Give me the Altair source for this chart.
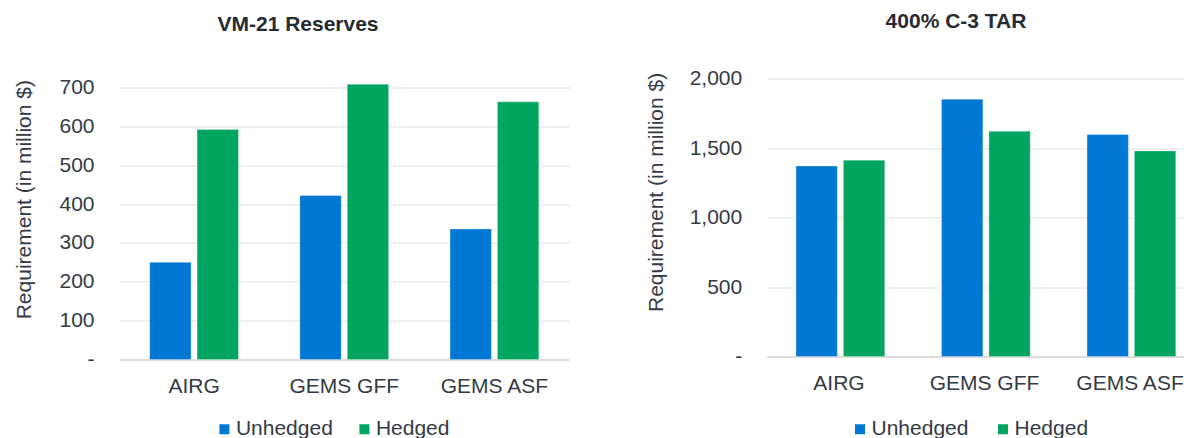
import altair as alt
import pandas as pd

categories = ["AIRG", "GEMS GFF", "GEMS ASF"]
series = ["Unhedged", "Hedged"]
vm21_unhedged = [250, 422, 336]
vm21_hedged = [592, 708, 663]
tar_unhedged = [1371, 1851, 1597]
tar_hedged = [1412, 1621, 1479]
colors = ["#0078D4", "#00A55F"]
vm21_ticks = [0, 100, 200, 300, 400, 500, 600, 700]
tar_ticks = [0, 500, 1000, 1500, 2000]

FONT = "Liberation Sans"
TXT = "#333a44"
TITLE_C = "#262b31"


def long(unh, hed):
    rows = []
    for c, u, h in zip(categories, unh, hed):
        rows.append({"cat": c, "series": "Unhedged", "value": u})
        rows.append({"cat": c, "series": "Hedged", "value": h})
    return pd.DataFrame(rows)


LABEL_EXPR = "datum.value == 0 ? '-\u00a0\u00a0' : format(datum.value, ',')"


def panel(df, title, title_dx, title_offset, width, height, ydomain, yvalues,
          xscale, ytitle_x, ytitle_y, legend_x, col_pad):
    return alt.Chart(df).mark_bar(stroke="#ffffff", strokeWidth=0.6, strokeOpacity=0.5).encode(
        x=alt.X("cat:N", sort=categories, scale=xscale,
                axis=alt.Axis(title=None, labelFontSize=21, labelFont=FONT, labelColor=TXT,
                              labelPadding=16, ticks=False, tickSize=0, domainColor="#d6d6d6",
                              domainWidth=1.5, labelAngle=0, grid=False)),
        xOffset=alt.XOffset("series:N", sort=series,
                            scale=alt.Scale(paddingInner=0.127, paddingOuter=0)),
        y=alt.Y("value:Q", scale=alt.Scale(domain=ydomain, nice=False, zero=True),
                axis=alt.Axis(values=yvalues, labelExpr=LABEL_EXPR,
                              title="Requirement (in million $)", titleFontSize=21,
                              titleFont=FONT, titleFontWeight="normal", titleColor=TXT,
                              titleX=ytitle_x, titleY=ytitle_y, titleBaseline="middle",
                              titleAlign="center", labelPadding=25, ticks=False, tickSize=0,
                              domain=False, gridColor="#dedede", gridWidth=1,
                              labelFontSize=21, labelFont=FONT, labelColor=TXT)),
        color=alt.Color("series:N", sort=series,
                        scale=alt.Scale(domain=series, range=colors),
                        legend=alt.Legend(title=None, orient="none", legendX=legend_x,
                                          legendY=340, direction="horizontal",
                                          symbolType="square", symbolSize=100,
                                          symbolStrokeWidth=0, labelFontSize=21,
                                          labelFont=FONT, labelColor=TXT,
                                          columnPadding=col_pad, labelOffset=1, padding=0)),
    ).properties(
        width=width, height=height,
        title=alt.TitleParams(title, fontSize=21, font=FONT, fontWeight="bold", color=TITLE_C,
                              anchor="middle", frame="group", dx=title_dx, offset=title_offset,
                              baseline="alphabetic"),
    )


left = panel(long(vm21_unhedged, vm21_hedged), "VM-21 Reserves", -46.25, 24.9,
             450.5, 281, [0, 723.1], vm21_ticks,
             alt.Scale(paddingInner=0.409, paddingOuter=0.2045),
             -94.5, 120.7, 94.9, 21)

right = panel(long(tar_unhedged, tar_hedged), "400% C-3 TAR", -18.85, 18.6,
              416.3, 278, [0, 2000], tar_ticks,
              alt.Scale(paddingInner=0.409, paddingOuter=0.135, align=0.746),
              -110.7, 113.4, 82.8, 24)

chart = alt.hconcat(left, right, spacing=196.7, bounds="flush").resolve_scale(
    color="independent", y="independent", x="independent"
).configure_view(stroke=None).properties(
    padding={"left": 13, "top": 10.5, "right": 0, "bottom": 0}
)

chart.save("out.html", embed_options={"renderer": "svg", "actions": False})
